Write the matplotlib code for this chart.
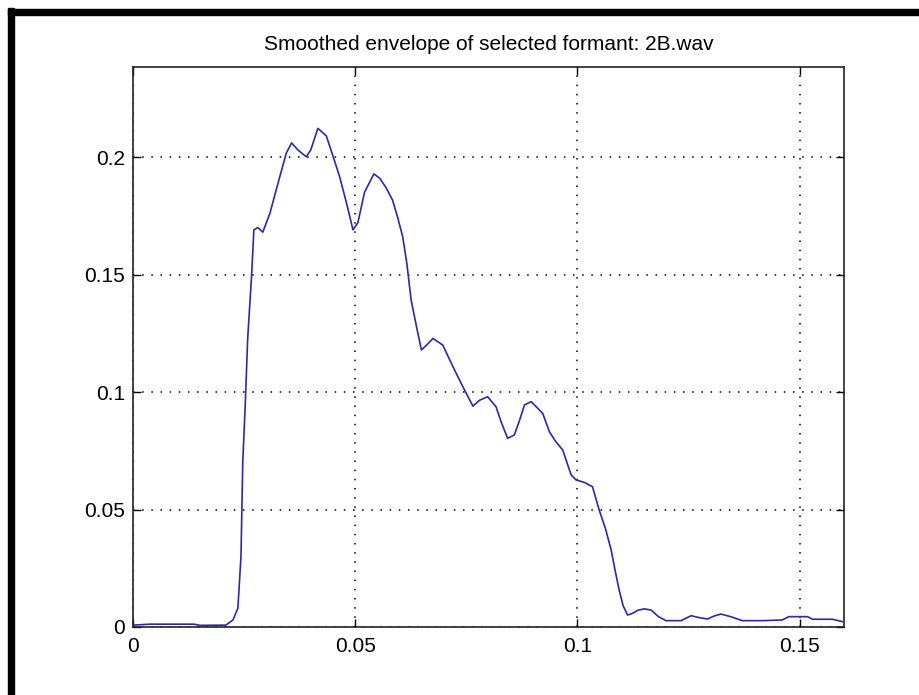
import matplotlib
matplotlib.use('Agg')
import matplotlib.pyplot as plt
from matplotlib.patches import Rectangle

# Smoothed formant envelope (time in s, amplitude)
t = [0.0, 0.0038, 0.0137, 0.0151, 0.0209, 0.0225, 0.0236, 0.0243, 0.0247,
     0.0253, 0.0258, 0.0267, 0.0272, 0.0281, 0.0292, 0.0308, 0.0328, 0.0345,
     0.0357, 0.0371, 0.0390, 0.0400, 0.0416, 0.0435, 0.0449, 0.0465, 0.0481,
     0.0495, 0.0506, 0.0521, 0.0542, 0.0555, 0.0570, 0.0584, 0.0596, 0.0607,
     0.0616, 0.0626, 0.0638, 0.0649, 0.0661, 0.0675, 0.0697, 0.0720, 0.0735,
     0.0750, 0.0765, 0.0780, 0.0798, 0.0817, 0.0829, 0.0843, 0.0858, 0.0870,
     0.0881, 0.0896, 0.0922, 0.0937, 0.0951, 0.0967, 0.0986, 0.0997, 0.1016,
     0.1034, 0.1049, 0.1063, 0.1076, 0.1085, 0.1094, 0.1103, 0.1113, 0.1124,
     0.1137, 0.1151, 0.1166, 0.1182, 0.1199, 0.1233, 0.1256, 0.1274, 0.1293,
     0.1308, 0.1323, 0.1345, 0.1371, 0.1416, 0.1461, 0.1476, 0.1518, 0.1529,
     0.1574, 0.1596]
env = [0.0008, 0.0012, 0.0012, 0.0007, 0.0008, 0.0030, 0.0080, 0.0300, 0.0700,
       0.0966, 0.1225, 0.1500, 0.1690, 0.1700, 0.1680, 0.1760, 0.1900, 0.2017,
       0.2060, 0.2030, 0.2001, 0.2030, 0.2122, 0.2090, 0.2010, 0.1916, 0.1800,
       0.1690, 0.1720, 0.1850, 0.1928, 0.1910, 0.1868, 0.1817, 0.1740, 0.1660,
       0.1550, 0.1390, 0.1278, 0.1179, 0.1200, 0.1228, 0.1200, 0.1108, 0.1050,
       0.0994, 0.0940, 0.0965, 0.0980, 0.0937, 0.0870, 0.0803, 0.0817, 0.0880,
       0.0945, 0.0959, 0.0909, 0.0831, 0.0790, 0.0753, 0.0647, 0.0626, 0.0615,
       0.0597, 0.0498, 0.0420, 0.0328, 0.0240, 0.0157, 0.0090, 0.0051, 0.0058,
       0.0072, 0.0077, 0.0072, 0.0045, 0.0027, 0.0027, 0.0048, 0.0040, 0.0034,
       0.0047, 0.0055, 0.0044, 0.0027, 0.0027, 0.0030, 0.0044, 0.0044, 0.0033,
       0.0033, 0.0023]

xticks = [0, 0.05, 0.1, 0.15]
yticks = [0, 0.05, 0.1, 0.15, 0.2]
xtick_labels = ['0', '0.05', '0.1', '0.15']
ytick_labels = ['0', '0.05', '0.1', '0.15', '0.2']

plt.rcParams['font.family'] = ['Liberation Sans', 'DejaVu Sans']

fig = plt.figure(figsize=(9.2, 6.95), dpi=100)
ax = fig.add_axes([133 / 920, 68 / 695, 711 / 920, 560 / 695])

ax.plot(t, env, color='#2a2aa8', linewidth=1.2)

ax.set_xlim(0, 0.16)
ax.set_ylim(0, 0.2383)
ax.set_xticks(xticks)
ax.set_xticklabels(xtick_labels)
ax.set_yticks(yticks)
ax.set_yticklabels(ytick_labels)
ax.tick_params(direction='in', top=True, right=True, length=6, width=1,
               labelsize=15)
ax.tick_params(axis='x', pad=7)
ax.tick_params(axis='y', pad=5.5)
ax.grid(True, color='black', linestyle=(0, (1, 5)), linewidth=1.1)
for s in ax.spines.values():
    s.set_linewidth(1.2)
    s.set_color('#222222')

ax.set_title('Smoothed envelope of selected formant: 2B.wav', fontsize=15, pad=12)

# thick black frame along the top and left edges
fig.patches.append(Rectangle((8 / 920, 1 - 15 / 695), 1, 6 / 695,
                             transform=fig.transFigure, color='black', zorder=10))
fig.patches.append(Rectangle((8 / 920, 0), 6 / 920, 1 - 8 / 695,
                             transform=fig.transFigure, color='black', zorder=10))

fig.savefig('out.png', dpi=100)
